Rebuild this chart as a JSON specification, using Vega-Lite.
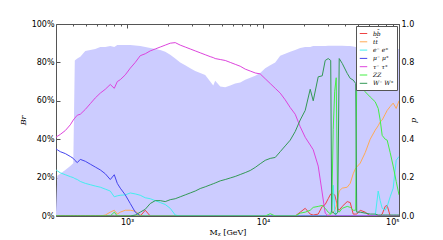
{
  "$schema": "https://vega.github.io/schema/vega-lite/v6.json",
  "width": 343,
  "height": 192,
  "autosize": {"type": "none"},
  "padding": {"left": 56, "top": 24, "right": 44, "bottom": 24},
  "background": "white",
  "config": {
    "view": {"stroke": "#555555", "strokeWidth": 1},
    "axis": {"domain": false, "grid": false, "labelFont": "DejaVu Sans", "labelFontSize": 8, "labelColor": "black", "tickColor": "#555555", "titleFont": "DejaVu Serif", "titleFontSize": 8, "titleFontWeight": "normal", "titleColor": "black"},
    "legend": {"orient": "top-right", "offset": 2, "padding": 3, "strokeColor": "#555555", "fillColor": "white", "symbolType": "stroke", "symbolStrokeWidth": 1, "symbolSize": 56, "labelFontSize": 6, "labelFont": "DejaVu Serif", "labelFontStyle": "italic", "rowPadding": 0.3, "labelOffset": 5, "cornerRadius": 0}
  },
  "data": {"values": [
    {"m":300,"p":0.02,"bb":0,"tt":0,"ee":0.24,"mm":0.35,"tau":0.41,"zz":0,"ww":0},
    {"m":306.7,"p":0.21,"bb":0,"tt":0,"ee":0.235,"mm":0.345,"tau":0.415,"zz":0,"ww":0},
    {"m":322.6,"p":0.22,"bb":0,"tt":0,"ee":0.225,"mm":0.335,"tau":0.425,"zz":0,"ww":0},
    {"m":351.2,"p":0.24,"bb":0,"tt":0,"ee":0.215,"mm":0.325,"tau":0.445,"zz":0,"ww":0},
    {"m":382.2,"p":0.26,"bb":0,"tt":0,"ee":0.205,"mm":0.31,"tau":0.475,"zz":0,"ww":0},
    {"m":402.1,"p":0.275,"bb":0,"tt":0,"ee":0.2,"mm":0.3,"tau":0.5,"zz":0,"ww":0},
    {"m":412.5,"p":0.81,"bb":0,"tt":0,"ee":0.195,"mm":0.29,"tau":0.51,"zz":0,"ww":0},
    {"m":430.3,"p":0.82,"bb":0,"tt":0,"ee":0.19,"mm":0.278,"tau":0.525,"zz":0,"ww":0},
    {"m":452.7,"p":0.83,"bb":0,"tt":0,"ee":0.18,"mm":0.295,"tau":0.53,"zz":0,"ww":0},
    {"m":492.7,"p":0.86,"bb":0,"tt":0,"ee":0.17,"mm":0.285,"tau":0.555,"zz":0,"ww":0},
    {"m":536.2,"p":0.865,"bb":0,"tt":0,"ee":0.163,"mm":0.27,"tau":0.585,"zz":0,"ww":0},
    {"m":583.6,"p":0.87,"bb":0,"tt":0,"ee":0.156,"mm":0.255,"tau":0.615,"zz":0,"ww":0},
    {"m":635.1,"p":0.88,"bb":0,"tt":0,"ee":0.15,"mm":0.24,"tau":0.64,"zz":0,"ww":0},
    {"m":691.2,"p":0.88,"bb":0,"tt":0.005,"ee":0.14,"mm":0.22,"tau":0.66,"zz":0,"ww":0},
    {"m":752.2,"p":0.885,"bb":0,"tt":0.02,"ee":0.13,"mm":0.19,"tau":0.685,"zz":0,"ww":0},
    {"m":805,"p":0.88,"bb":0,"tt":0.03,"ee":0.1,"mm":0.215,"tau":0.665,"zz":0.02,"ww":0},
    {"m":847,"p":0.89,"bb":0,"tt":0.01,"ee":0.105,"mm":0.17,"tau":0.7,"zz":0,"ww":0},
    {"m":891.1,"p":0.89,"bb":0,"tt":0.02,"ee":0.108,"mm":0.145,"tau":0.71,"zz":0,"ww":0},
    {"m":969.8,"p":0.89,"bb":0,"tt":0.03,"ee":0.11,"mm":0.11,"tau":0.735,"zz":0,"ww":0},
    {"m":1055.4,"p":0.89,"bb":0,"tt":0.03,"ee":0.12,"mm":0.065,"tau":0.77,"zz":0,"ww":0},
    {"m":1148.6,"p":0.888,"bb":0,"tt":0.025,"ee":0.115,"mm":0.02,"tau":0.8,"zz":0,"ww":0.005},
    {"m":1250,"p":0.885,"bb":0,"tt":0.005,"ee":0.108,"mm":0,"tau":0.835,"zz":0,"ww":0.02},
    {"m":1360.4,"p":0.88,"bb":0.03,"tt":0,"ee":0.095,"mm":0,"tau":0.845,"zz":0,"ww":0.035},
    {"m":1480.5,"p":0.875,"bb":0,"tt":0,"ee":0.09,"mm":0,"tau":0.86,"zz":0,"ww":0.065},
    {"m":1611.2,"p":0.87,"bb":0,"tt":0,"ee":0.08,"mm":0,"tau":0.87,"zz":0,"ww":0.08},
    {"m":1753.4,"p":0.865,"bb":0,"tt":0,"ee":0.07,"mm":0,"tau":0.88,"zz":0,"ww":0.08},
    {"m":1908.2,"p":0.855,"bb":0,"tt":0,"ee":0.06,"mm":0,"tau":0.89,"zz":0,"ww":0.075},
    {"m":2076.7,"p":0.84,"bb":0,"tt":0,"ee":0.04,"mm":0,"tau":0.9,"zz":0,"ww":0.085},
    {"m":2260.1,"p":0.82,"bb":0,"tt":0,"ee":0.005,"mm":0,"tau":0.903,"zz":0,"ww":0.09},
    {"m":2459.6,"p":0.8,"bb":0,"tt":0,"ee":0,"mm":0,"tau":0.89,"zz":0,"ww":0.1},
    {"m":2676.8,"p":0.785,"bb":0,"tt":0,"ee":0,"mm":0,"tau":0.88,"zz":0,"ww":0.11},
    {"m":2913.1,"p":0.77,"bb":0,"tt":0,"ee":0,"mm":0,"tau":0.87,"zz":0,"ww":0.12},
    {"m":3170.3,"p":0.755,"bb":0,"tt":0,"ee":0,"mm":0,"tau":0.86,"zz":0,"ww":0.13},
    {"m":3450.3,"p":0.745,"bb":0,"tt":0,"ee":0,"mm":0,"tau":0.85,"zz":0,"ww":0.143},
    {"m":3754.9,"p":0.735,"bb":0,"tt":0,"ee":0,"mm":0,"tau":0.84,"zz":0,"ww":0.152},
    {"m":4086.4,"p":0.7,"bb":0,"tt":0,"ee":0,"mm":0,"tau":0.83,"zz":0,"ww":0.162},
    {"m":4303,"p":0.68,"bb":0,"tt":0,"ee":0,"mm":0,"tau":0.825,"zz":0,"ww":0.168},
    {"m":4447.3,"p":0.705,"bb":0,"tt":0,"ee":0,"mm":0,"tau":0.82,"zz":0,"ww":0.172},
    {"m":4843.9,"p":0.675,"bb":0,"tt":0,"ee":0,"mm":0,"tau":0.815,"zz":0,"ww":0.183},
    {"m":5271.6,"p":0.67,"bb":0,"tt":0,"ee":0,"mm":0,"tau":0.81,"zz":0,"ww":0.19},
    {"m":5737.1,"p":0.68,"bb":0,"tt":0,"ee":0,"mm":0,"tau":0.8,"zz":0,"ww":0.198},
    {"m":6243.6,"p":0.69,"bb":0,"tt":0,"ee":0,"mm":0,"tau":0.79,"zz":0,"ww":0.206},
    {"m":6795,"p":0.695,"bb":0,"tt":0,"ee":0,"mm":0,"tau":0.78,"zz":0,"ww":0.216},
    {"m":7394.9,"p":0.71,"bb":0,"tt":0,"ee":0,"mm":0,"tau":0.765,"zz":0,"ww":0.226},
    {"m":8048,"p":0.72,"bb":0,"tt":0,"ee":0,"mm":0,"tau":0.755,"zz":0,"ww":0.237},
    {"m":8758.7,"p":0.73,"bb":0,"tt":0,"ee":0,"mm":0,"tau":0.745,"zz":0,"ww":0.253},
    {"m":9532,"p":0.745,"bb":0,"tt":0,"ee":0,"mm":0,"tau":0.74,"zz":0,"ww":0.272},
    {"m":10377,"p":0.77,"bb":0,"tt":0,"ee":0,"mm":0,"tau":0.715,"zz":0,"ww":0.29},
    {"m":11293,"p":0.785,"bb":0,"tt":0,"ee":0,"mm":0,"tau":0.69,"zz":0.012,"ww":0.3},
    {"m":12290,"p":0.8,"bb":0,"tt":0,"ee":0,"mm":0,"tau":0.665,"zz":0,"ww":0.305},
    {"m":13376,"p":0.835,"bb":0,"tt":0,"ee":0,"mm":0,"tau":0.64,"zz":0,"ww":0.335},
    {"m":14557,"p":0.845,"bb":0,"tt":0,"ee":0,"mm":0,"tau":0.605,"zz":0,"ww":0.365},
    {"m":15843,"p":0.855,"bb":0,"tt":0,"ee":0,"mm":0,"tau":0.565,"zz":0,"ww":0.395},
    {"m":17242,"p":0.865,"bb":0,"tt":0,"ee":0,"mm":0,"tau":0.53,"zz":0,"ww":0.44},
    {"m":18765,"p":0.875,"bb":0.02,"tt":0,"ee":0,"mm":0,"tau":0.465,"zz":0.015,"ww":0.5},
    {"m":20422,"p":0.88,"bb":0.04,"tt":0,"ee":0,"mm":0,"tau":0.41,"zz":0.02,"ww":0.55},
    {"m":22225,"p":0.88,"bb":0.01,"tt":0,"ee":0,"mm":0,"tau":0.37,"zz":0.03,"ww":0.66},
    {"m":23391,"p":0.885,"bb":0.005,"tt":0,"ee":0,"mm":0,"tau":0.345,"zz":0.045,"ww":0.6},
    {"m":25456,"p":0.885,"bb":0.01,"tt":0,"ee":0,"mm":0,"tau":0.26,"zz":0.05,"ww":0.725},
    {"m":27243,"p":0.885,"bb":0.05,"tt":0,"ee":0,"mm":0,"tau":0.12,"zz":0.055,"ww":0.73},
    {"m":28661,"p":0.885,"bb":0.06,"tt":0,"ee":0,"mm":0,"tau":0.015,"zz":0.04,"ww":0.81},
    {"m":30155,"p":0.887,"bb":0.09,"tt":0.005,"ee":0,"mm":0,"tau":0,"zz":0.02,"ww":0.82},
    {"m":31457,"p":0.887,"bb":0.115,"tt":0.01,"ee":0.01,"mm":0,"tau":0,"zz":0.01,"ww":0.81},
    {"m":31994,"p":0.887,"bb":0.12,"tt":0.012,"ee":0.03,"mm":0,"tau":0,"zz":0.03,"ww":0.02},
    {"m":32816,"p":0.887,"bb":0.115,"tt":0.02,"ee":0.16,"mm":0,"tau":0,"zz":0.45,"ww":0.02},
    {"m":33661,"p":0.887,"bb":0.11,"tt":0.03,"ee":0.03,"mm":0,"tau":0,"zz":0.65,"ww":0.01},
    {"m":34527,"p":0.887,"bb":0.08,"tt":0.05,"ee":0,"mm":0,"tau":0,"zz":0.72,"ww":0.01},
    {"m":35416,"p":0.887,"bb":0.04,"tt":0.09,"ee":0,"mm":0,"tau":0,"zz":0.03,"ww":0.02},
    {"m":36327,"p":0.887,"bb":0.03,"tt":0.13,"ee":0,"mm":0,"tau":0,"zz":0.02,"ww":0.82},
    {"m":38221,"p":0.887,"bb":0.05,"tt":0.145,"ee":0,"mm":0,"tau":0,"zz":0.04,"ww":0.795},
    {"m":41597,"p":0.886,"bb":0.075,"tt":0.15,"ee":0,"mm":0,"tau":0,"zz":0.05,"ww":0.743},
    {"m":43765,"p":0.885,"bb":0.07,"tt":0.17,"ee":0,"mm":0,"tau":0,"zz":0.045,"ww":0.717},
    {"m":46045,"p":0.883,"bb":0.01,"tt":0.22,"ee":0,"mm":0,"tau":0,"zz":0.03,"ww":0.708},
    {"m":48036,"p":0.88,"bb":0.01,"tt":0.25,"ee":0,"mm":0,"tau":0,"zz":0.03,"ww":0.69},
    {"m":48857,"p":0.878,"bb":0.01,"tt":0.255,"ee":0,"mm":0,"tau":0,"zz":0.72,"ww":0.02},
    {"m":51836,"p":0.875,"bb":0.03,"tt":0.275,"ee":0,"mm":0,"tau":0,"zz":0.68,"ww":0.02},
    {"m":56411,"p":0.872,"bb":0.02,"tt":0.33,"ee":0,"mm":0,"tau":0,"zz":0.647,"ww":0.015},
    {"m":61395,"p":0.87,"bb":0,"tt":0.4,"ee":0,"mm":0,"tau":0,"zz":0.62,"ww":0.01},
    {"m":66813,"p":0.87,"bb":0,"tt":0.447,"ee":0,"mm":0,"tau":0,"zz":0.595,"ww":0.01},
    {"m":70294,"p":0.87,"bb":0,"tt":0.47,"ee":0.13,"mm":0,"tau":0,"zz":0.56,"ww":0.005},
    {"m":72715,"p":0.87,"bb":0,"tt":0.49,"ee":0.08,"mm":0,"tau":0,"zz":0.5,"ww":0.005},
    {"m":75219,"p":0.87,"bb":0.01,"tt":0.5,"ee":0.04,"mm":0,"tau":0,"zz":0.42,"ww":0.005},
    {"m":79139,"p":0.87,"bb":0.05,"tt":0.53,"ee":0.03,"mm":0,"tau":0,"zz":0.4,"ww":0.005},
    {"m":81865,"p":0.87,"bb":0.055,"tt":0.55,"ee":0.05,"mm":0,"tau":0,"zz":0.395,"ww":0.005},
    {"m":86131,"p":0.87,"bb":0,"tt":0.57,"ee":0.1,"mm":0,"tau":0,"zz":0.33,"ww":0.005},
    {"m":90616,"p":0.87,"bb":0,"tt":0.588,"ee":0.145,"mm":0,"tau":0,"zz":0.26,"ww":0.005},
    {"m":95354,"p":0.87,"bb":0,"tt":0.56,"ee":0.29,"mm":0,"tau":0,"zz":0.18,"ww":0.005},
    {"m":100000,"p":0.87,"bb":0,"tt":0.6,"ee":0.31,"mm":0,"tau":0,"zz":0.11,"ww":0.005}
  ]},
  "layer": [
    {
      "mark": {"type": "area", "color": "#ccccff", "opacity": 1, "clip": true},
      "encoding": {
        "x": {"field": "m", "type": "quantitative",
              "scale": {"type": "log", "domain": [300, 100000], "nice": false},
              "axis": {"orient": "top", "values": [400,500,600,700,800,900,1000,2000,3000,4000,5000,6000,7000,8000,9000,10000,20000,30000,40000,50000,60000,70000,80000,90000,100000],
                       "labels": false, "title": null,
                       "tickSize": {"condition": {"test": "datum.value==1000||datum.value==10000||datum.value==100000", "value": -4}, "value": -2}}},
        "y": {"field": "p", "type": "quantitative", "stack": null,
              "scale": {"domain": [0, 1], "nice": false},
              "axis": {"orient": "right", "values": [0,0.2,0.4,0.6,0.8,1], "format": ".1f", "title": "p", "titleAngle": 270, "titleFontStyle": "italic", "titlePadding": 4, "tickSize": -4, "labelPadding": 6}}
      }
    },
    {
      "transform": [{"fold": ["bb","tt","ee","mm","tau","zz","ww"], "as": ["s","v"]}],
      "mark": {"type": "line", "strokeWidth": 1, "clip": true},
      "encoding": {
        "x": {"field": "m", "type": "quantitative",
              "axis": {"orient": "bottom", "values": [400,500,600,700,800,900,1000,2000,3000,4000,5000,6000,7000,8000,9000,10000,20000,30000,40000,50000,60000,70000,80000,90000,100000],
                       "labelExpr": "datum.value==1000?'10³':datum.value==10000?'10⁴':datum.value==100000?'10⁵':''",
                       "title": "Mᵪ  [GeV]", "titlePadding": 2, "labelPadding": 6,
                       "tickSize": {"condition": {"test": "datum.value==1000||datum.value==10000||datum.value==100000", "value": -4}, "value": -2}}},
        "y": {"field": "v", "type": "quantitative",
              "axis": {"orient": "left", "values": [0,0.2,0.4,0.6,0.8,1], "format": ".0%", "title": "Br", "titleFontStyle": "italic", "titlePadding": 4, "tickSize": -4, "labelPadding": 6}},
        "color": {"field": "s", "type": "nominal",
                  "scale": {"domain": ["bb","tt","ee","mm","tau","zz","ww"], "range": ["#ee4444","#ffaa55","#44eeee","#4444ee","#dd44dd","#44ee44","#339955"]},
                  "legend": {"title": null, "labelExpr": "datum.label=='bb'?'bb̄':datum.label=='tt'?'tt̄':datum.label=='ee'?'e⁻ e⁺':datum.label=='mm'?'μ⁻ μ⁺':datum.label=='tau'?'τ⁻ τ⁺':datum.label=='zz'?'ZZ':'W⁻ W⁺'"}}
      }
    }
  ],
  "resolve": {"axis": {"x": "independent", "y": "independent"}}
}
